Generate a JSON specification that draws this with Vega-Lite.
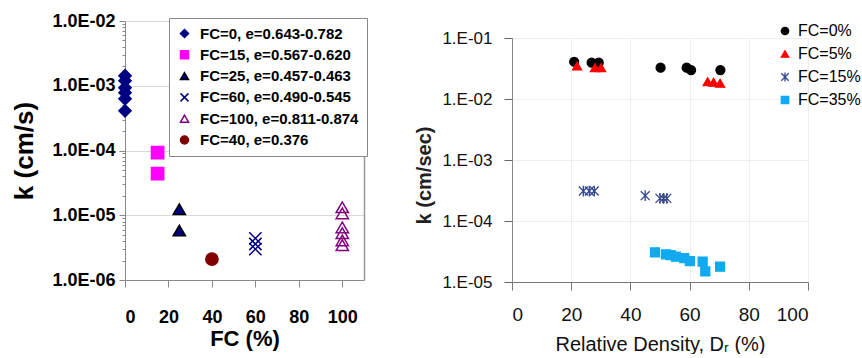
{
  "$schema": "https://vega.github.io/schema/vega-lite/v6.json",
  "background": "white",
  "padding": {"left": 11, "top": 12, "right": 0, "bottom": 0},
  "spacing": 46,
  "config": {"view": {"stroke": null}, "font": "Liberation Sans"},
  "resolve": {
    "scale": {"x": "independent", "y": "independent", "shape": "independent", "fill": "independent", "stroke": "independent"},
    "legend": {"shape": "independent", "fill": "independent", "stroke": "independent"}
  },
  "hconcat": [
    {
      "width": 239,
      "height": 259,
      "data": {
        "values": [
          {"fc": 0, "k": 0.00143, "grp": "FC=0, e=0.643-0.782"},
          {"fc": 0, "k": 0.00119, "grp": "FC=0, e=0.643-0.782"},
          {"fc": 0, "k": 0.00093, "grp": "FC=0, e=0.643-0.782"},
          {"fc": 0, "k": 0.00078, "grp": "FC=0, e=0.643-0.782"},
          {"fc": 0, "k": 0.00063, "grp": "FC=0, e=0.643-0.782"},
          {"fc": 0, "k": 0.00041, "grp": "FC=0, e=0.643-0.782"},
          {"fc": 15, "k": 0.000093, "grp": "FC=15, e=0.567-0.620"},
          {"fc": 15, "k": 0.000044, "grp": "FC=15, e=0.567-0.620"},
          {"fc": 25, "k": 0.0000124, "grp": "FC=25, e=0.457-0.463"},
          {"fc": 25, "k": 0.0000058, "grp": "FC=25, e=0.457-0.463"},
          {"fc": 60, "k": 0.0000044, "grp": "FC=60, e=0.490-0.545"},
          {"fc": 60, "k": 0.0000036, "grp": "FC=60, e=0.490-0.545"},
          {"fc": 60, "k": 0.0000030, "grp": "FC=60, e=0.490-0.545"},
          {"fc": 100, "k": 0.0000133, "grp": "FC=100, e=0.811-0.874"},
          {"fc": 100, "k": 0.0000107, "grp": "FC=100, e=0.811-0.874"},
          {"fc": 100, "k": 0.0000065, "grp": "FC=100, e=0.811-0.874"},
          {"fc": 100, "k": 0.0000053, "grp": "FC=100, e=0.811-0.874"},
          {"fc": 100, "k": 0.0000041, "grp": "FC=100, e=0.811-0.874"},
          {"fc": 100, "k": 0.00000345, "grp": "FC=100, e=0.811-0.874"},
          {"fc": 40, "k": 0.0000021, "grp": "FC=40, e=0.376"}
        ]
      },
      "layer": [
        {
          "mark": {"type": "point", "opacity": 1, "strokeWidth": 1.5, "size": 150},
          "encoding": {
            "x": {
              "field": "fc", "type": "quantitative",
              "scale": {"domain": [0, 110], "nice": false, "zero": false},
              "axis": {
                "values": [0, 20, 40, 60, 80, 100],
                "grid": false,
                "domainColor": "#888888", "tickColor": "#888888", "tickSize": 7,
                "labelFont": "Liberation Sans", "labelFontWeight": "bold", "labelFontSize": 18, "labelColor": "#000000", "labelPadding": 21,
                "title": "FC (%)", "titleFont": "Liberation Sans", "titleFontWeight": "bold", "titleFontSize": 22, "titleColor": "#000000", "titlePadding": 2
              }
            },
            "y": {
              "field": "k", "type": "quantitative",
              "scale": {"type": "log", "domain": [0.000001, 0.01], "nice": false},
              "axis": {
                "values": [0.000001, 0.000002, 0.000003, 0.000004, 0.000005, 0.000006, 0.000007, 0.000008, 0.000009,
                           0.00001, 0.00002, 0.00003, 0.00004, 0.00005, 0.00006, 0.00007, 0.00008, 0.00009,
                           0.0001, 0.0002, 0.0003, 0.0004, 0.0005, 0.0006, 0.0007, 0.0008, 0.0009,
                           0.001, 0.002, 0.003, 0.004, 0.005, 0.006, 0.007, 0.008, 0.009, 0.01],
                "labelExpr": "abs(log(datum.value)/LN10 - round(log(datum.value)/LN10)) < 0.001 ? '1.0E-0' + (-round(log(datum.value)/LN10)) : ''",
                "labelOverlap": false,
                "tickSize": {"condition": {"test": "abs(log(datum.value)/LN10 - round(log(datum.value)/LN10)) < 0.001", "value": 6}, "value": 3},
                "grid": true,
                "gridColor": "#d9d9d9",
                "gridOpacity": {"condition": {"test": "abs(log(datum.value)/LN10 - round(log(datum.value)/LN10)) < 0.001", "value": 1}, "value": 0},
                "domainColor": "#888888", "tickColor": "#888888",
                "labelFont": "Liberation Sans", "labelFontWeight": "bold", "labelFontSize": 18, "labelColor": "#000000", "labelPadding": 4,
                "title": "k (cm/s)", "titleFont": "Liberation Sans", "titleFontWeight": "bold", "titleFontSize": 26, "titleColor": "#000000", "titlePadding": 14
              }
            },
            "shape": {
              "field": "grp", "type": "nominal",
              "scale": {
                "domain": ["FC=0, e=0.643-0.782", "FC=15, e=0.567-0.620", "FC=25, e=0.457-0.463", "FC=60, e=0.490-0.545", "FC=100, e=0.811-0.874", "FC=40, e=0.376"],
                "range": ["diamond", "square", "triangle-up", "M-1,-1L1,1M-1,1L1,-1", "triangle-up", "circle"]
              },
              "legend": {
                "title": null, "orient": "none", "legendX": 44, "legendY": -3,
                "strokeColor": "#888888", "fillColor": "#ffffff", "padding": 8,
                "labelFont": "Liberation Sans", "labelFontWeight": "bold", "labelFontSize": 15, "labelColor": "#000000", "labelLimit": 300,
                "labelOffset": 8, "symbolSize": 64, "symbolStrokeWidth": 1.5, "rowPadding": 5.3
              }
            },
            "fill": {
              "field": "grp", "type": "nominal",
              "scale": {
                "domain": ["FC=0, e=0.643-0.782", "FC=15, e=0.567-0.620", "FC=25, e=0.457-0.463", "FC=60, e=0.490-0.545", "FC=100, e=0.811-0.874", "FC=40, e=0.376"],
                "range": ["#000080", "#ff00ff", "#000080", "transparent", "transparent", "#800000"]
              },
              "legend": {
                "title": null, "orient": "none", "legendX": 44, "legendY": -3,
                "strokeColor": "#888888", "fillColor": "#ffffff", "padding": 8,
                "labelFont": "Liberation Sans", "labelFontWeight": "bold", "labelFontSize": 15, "labelColor": "#000000", "labelLimit": 300,
                "labelOffset": 8, "symbolSize": 64, "symbolStrokeWidth": 1.5, "rowPadding": 5.3
              }
            },
            "stroke": {
              "field": "grp", "type": "nominal",
              "scale": {
                "domain": ["FC=0, e=0.643-0.782", "FC=15, e=0.567-0.620", "FC=25, e=0.457-0.463", "FC=60, e=0.490-0.545", "FC=100, e=0.811-0.874", "FC=40, e=0.376"],
                "range": ["#000080", "#ff00ff", "#000000", "#000080", "#800080", "#800000"]
              },
              "legend": {
                "title": null, "orient": "none", "legendX": 44, "legendY": -3,
                "strokeColor": "#888888", "fillColor": "#ffffff", "padding": 8,
                "labelFont": "Liberation Sans", "labelFontWeight": "bold", "labelFontSize": 15, "labelColor": "#000000", "labelLimit": 300,
                "labelOffset": 8, "symbolSize": 64, "symbolStrokeWidth": 1.5, "rowPadding": 5.3
              }
            }
          }
        },
        {
          "mark": {"type": "point", "opacity": 0},
          "encoding": {
            "x": {"field": "fc", "type": "quantitative"},
            "y": {
              "field": "k", "type": "quantitative",
              "axis": {"orient": "right", "labels": false, "ticks": false, "grid": false, "title": null, "domain": true, "domainColor": "#999999", "domainWidth": 1.5}
            }
          }
        }
      ],
      "resolve": {"axis": {"y": "independent"}}
    },
    {
      "spacing": 1,
      "vconcat": [
        {
          "width": 296,
          "height": 7,
          "data": {"values": []},
          "mark": {"type": "point", "opacity": 0}
        },
        {
          "width": 296,
          "height": 244,
          "data": {
            "values": [
              {"dr": 21.0, "k": 0.0408, "fc": "FC=0%"},
              {"dr": 26.9, "k": 0.0394, "fc": "FC=0%"},
              {"dr": 29.3, "k": 0.0394, "fc": "FC=0%"},
              {"dr": 50.2, "k": 0.0326, "fc": "FC=0%"},
              {"dr": 59.0, "k": 0.0326, "fc": "FC=0%"},
              {"dr": 60.5, "k": 0.0298, "fc": "FC=0%"},
              {"dr": 70.4, "k": 0.0298, "fc": "FC=0%"},
              {"dr": 22.0, "k": 0.0347, "fc": "FC=5%"},
              {"dr": 28.0, "k": 0.0326, "fc": "FC=5%"},
              {"dr": 30.1, "k": 0.0326, "fc": "FC=5%"},
              {"dr": 66.1, "k": 0.0192, "fc": "FC=5%"},
              {"dr": 68.1, "k": 0.0188, "fc": "FC=5%"},
              {"dr": 70.3, "k": 0.0181, "fc": "FC=5%"},
              {"dr": 24.1, "k": 0.00031, "fc": "FC=15%"},
              {"dr": 26.1, "k": 0.00031, "fc": "FC=15%"},
              {"dr": 27.8, "k": 0.00031, "fc": "FC=15%"},
              {"dr": 45.0, "k": 0.00026, "fc": "FC=15%"},
              {"dr": 50.0, "k": 0.000235, "fc": "FC=15%"},
              {"dr": 51.2, "k": 0.000235, "fc": "FC=15%"},
              {"dr": 52.3, "k": 0.000235, "fc": "FC=15%"},
              {"dr": 48.3, "k": 0.0000307, "fc": "FC=35%"},
              {"dr": 52.0, "k": 0.0000284, "fc": "FC=35%"},
              {"dr": 53.6, "k": 0.0000275, "fc": "FC=35%"},
              {"dr": 55.4, "k": 0.000026, "fc": "FC=35%"},
              {"dr": 58.2, "k": 0.0000247, "fc": "FC=35%"},
              {"dr": 60.1, "k": 0.000022, "fc": "FC=35%"},
              {"dr": 64.4, "k": 0.0000215, "fc": "FC=35%"},
              {"dr": 65.3, "k": 0.000015, "fc": "FC=35%"},
              {"dr": 70.3, "k": 0.0000178, "fc": "FC=35%"}
            ]
          },
          "mark": {"type": "point", "opacity": 1, "strokeWidth": 1.3, "size": 80},
          "encoding": {
            "x": {
              "field": "dr", "type": "quantitative",
              "scale": {"domain": [0, 100], "nice": false},
              "axis": {
                "values": [0, 20, 40, 60, 80, 100],
                "grid": true, "gridColor": "#eeeeee",
                "domainColor": "#777777", "tickColor": "#777777", "tickSize": 8,
                "labelFont": "Liberation Sans", "labelFontSize": 19, "labelColor": "#111111", "labelPadding": 15,
                "title": "Relative Density, Dᵣ (%)", "titleFont": "Liberation Sans", "titleFontWeight": "normal", "titleFontSize": 20, "titleColor": "#111111", "titlePadding": 10
              }
            },
            "y": {
              "field": "k", "type": "quantitative",
              "scale": {"type": "log", "domain": [0.00001, 0.1], "nice": false},
              "axis": {
                "values": [0.00001, 0.0001, 0.001, 0.01, 0.1],
                "labelExpr": "'1.E-0' + (-round(log(datum.value)/LN10))",
                "grid": true, "gridColor": "#eeeeee",
                "domainColor": "#888888", "tickColor": "#666666", "tickSize": 8,
                "labelFont": "Liberation Sans", "labelFontSize": 17, "labelColor": "#111111", "labelPadding": 12,
                "title": "k (cm/sec)", "titleFont": "Liberation Sans", "titleFontWeight": "bold", "titleFontSize": 20, "titleColor": "#222222", "titlePadding": 7, "titleY": 137
              }
            },
            "shape": {
              "field": "fc", "type": "nominal",
              "scale": {"domain": ["FC=0%", "FC=5%", "FC=15%", "FC=35%"], "range": ["circle", "triangle-up", "M-1,-1L1,1M-1,1L1,-1M0,-1.2L0,1.2", "square"]},
              "legend": {
                "title": null, "orient": "none", "legendX": 265, "legendY": 2, "padding": 0,
                "labelFont": "Liberation Sans", "labelFontSize": 16, "labelColor": "#000000", "labelOffset": 5, "labelLimit": 200,
                "symbolSize": 55, "symbolStrokeWidth": 1.3, "rowPadding": 7
              }
            },
            "fill": {
              "field": "fc", "type": "nominal",
              "scale": {"domain": ["FC=0%", "FC=5%", "FC=15%", "FC=35%"], "range": ["#000000", "#ff0000", "transparent", "#0faaf0"]},
              "legend": {
                "title": null, "orient": "none", "legendX": 265, "legendY": 2, "padding": 0,
                "labelFont": "Liberation Sans", "labelFontSize": 16, "labelColor": "#000000", "labelOffset": 5, "labelLimit": 200,
                "symbolSize": 55, "symbolStrokeWidth": 1.3, "rowPadding": 7
              }
            },
            "stroke": {
              "field": "fc", "type": "nominal",
              "scale": {"domain": ["FC=0%", "FC=5%", "FC=15%", "FC=35%"], "range": ["#000000", "#ff0000", "#34468c", "#0faaf0"]},
              "legend": {
                "title": null, "orient": "none", "legendX": 265, "legendY": 2, "padding": 0,
                "labelFont": "Liberation Sans", "labelFontSize": 16, "labelColor": "#000000", "labelOffset": 5, "labelLimit": 200,
                "symbolSize": 55, "symbolStrokeWidth": 1.3, "rowPadding": 7
              }
            }
          }
        }
      ]
    }
  ]
}
